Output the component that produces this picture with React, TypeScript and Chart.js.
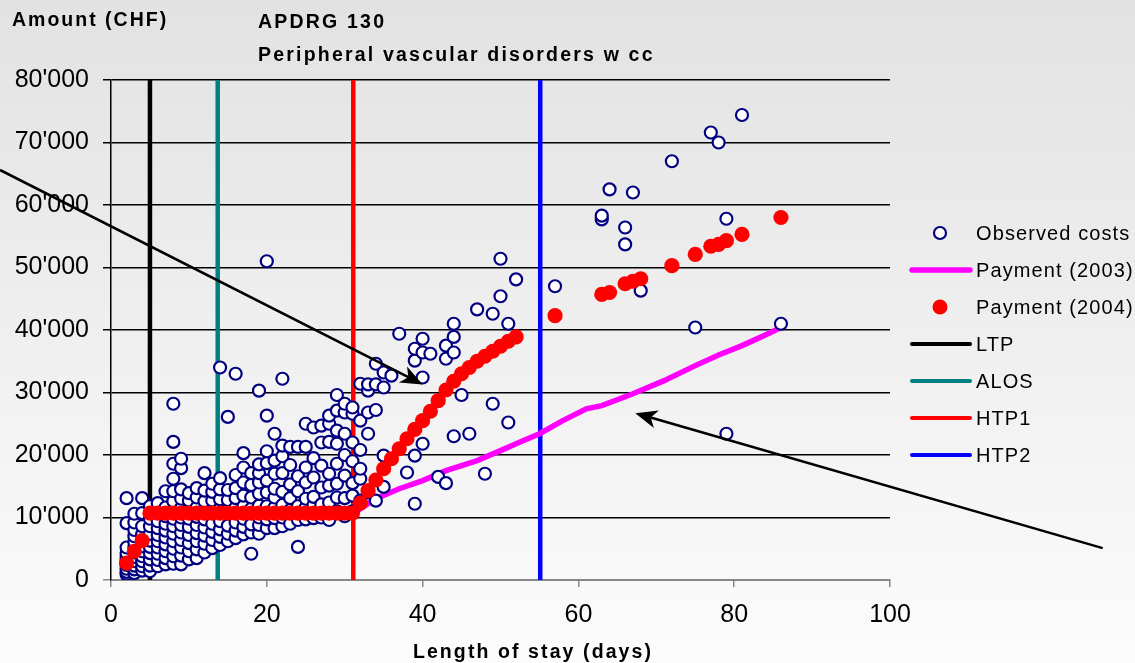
import { useEffect, useRef } from "react";
import { Chart, registerables } from "chart.js";

Chart.register(...registerables);

const W = 1135;
const H = 663;
const FONT = "'Liberation Sans', Arial, sans-serif";

// ---------- data ----------
const chartTitle = "APDRG 130";
const chartSubtitle = "Peripheral vascular disorders w cc";
const yAxisTitle = "Amount (CHF)";
const xAxisTitle = "Length of stay (days)";

const xMin = 0;
const xMax = 100;
const xStep = 20;
const yMin = 0;
const yMax = 80000;
const yStep = 10000;

// Observed costs: [length of stay, costs of the cases with that stay]
const observedCosts: [number, number[]][] = [
  [2, [900, 1300, 1800, 2400, 3000, 3600, 4300, 5200, 9100, 13100]],
  [3, [1100, 1700, 2300, 3000, 3700, 4400, 5200, 6100, 7000, 8000, 9200, 10600]],
  [4, [1500, 2200, 3000, 3800, 4600, 5400, 6300, 7300, 8600, 10700, 13100]],
  [5, [1400, 2300, 3300, 4300, 5300, 6300, 7400, 8600, 9800, 11800]],
  [6, [2200, 3200, 4200, 5200, 6200, 7200, 8300, 9400, 11200, 12300]],
  [7, [2500, 3500, 4600, 5700, 6800, 7900, 9000, 10200, 11600, 14200]],
  [8, [2600, 3800, 5000, 6200, 7400, 8600, 9800, 11200, 12600, 14200, 16200, 18600, 22100, 28200]],
  [9, [2500, 3900, 5200, 6400, 7600, 8800, 10000, 11500, 13000, 14500, 17900, 19400]],
  [10, [3300, 4600, 5900, 7200, 8500, 9800, 11400, 12700, 13900]],
  [11, [3500, 4900, 6200, 7500, 8800, 10100, 11600, 13200, 14700]],
  [12, [4400, 5800, 7100, 8400, 9700, 11300, 12600, 14300, 17100]],
  [13, [5100, 6400, 7700, 9000, 11200, 12700, 14100, 15400]],
  [14, [5600, 6900, 8100, 9400, 11500, 12900, 14500, 16300, 34000]],
  [15, [6200, 7400, 8700, 11300, 12800, 14400, 26100]],
  [16, [6700, 7900, 9200, 11600, 13100, 14700, 16800, 33000]],
  [17, [7300, 8500, 9800, 11800, 13500, 15600, 18000, 20300]],
  [18, [4200, 7600, 8900, 11400, 13200, 15200, 17100]],
  [19, [7400, 8800, 10000, 11900, 13800, 15600, 17100, 18500, 30300]],
  [20, [8300, 9700, 11800, 14000, 15900, 18700, 20600, 26300, 51000]],
  [21, [8300, 9900, 11600, 13200, 14600, 17000, 19100, 23400]],
  [22, [8600, 10000, 12000, 14100, 17100, 19800, 21500, 32200]],
  [23, [9000, 11200, 13100, 15300, 18400, 21300]],
  [24, [5300, 9600, 11800, 14200, 16600, 21300]],
  [25, [9700, 11600, 13000, 15600, 18000, 21300, 25000]],
  [26, [9900, 12000, 13300, 16400, 19500, 24400]],
  [27, [10000, 12100, 14800, 18300, 22000, 24700]],
  [28, [9600, 12400, 15100, 17000, 22100, 25000, 26300]],
  [29, [11000, 13200, 15400, 18600, 21800, 23900, 27100, 29600]],
  [30, [10200, 13100, 16700, 20000, 23400, 26800, 28200]],
  [31, [11000, 13500, 15500, 19000, 22000, 26600, 27600]],
  [32, [12700, 16200, 17800, 20800, 25500, 31400]],
  [33, [14000, 23400, 26800, 30300, 31300]],
  [34, [12700, 27200, 31300, 34600]],
  [35, [14900, 19900, 30800, 33200]],
  [36, [32700]],
  [37, [39400]],
  [38, [17200]],
  [39, [12200, 19900, 35100, 37000]],
  [40, [21800, 32400, 36400, 38600]],
  [41, [36200]],
  [42, [16500]],
  [43, [15500, 35400, 37500]],
  [44, [23000, 36400, 38900, 41000]],
  [45, [29600]],
  [46, [23400]],
  [47, [43300]],
  [48, [17000]],
  [49, [28200, 42600]],
  [50, [45400, 51400]],
  [51, [25200, 41000]],
  [52, [48100]],
  [57, [47000]],
  [63, [57700, 58300]],
  [64, [62500]],
  [66, [53700, 56400]],
  [67, [62000]],
  [68, [46300]],
  [72, [67000]],
  [75, [40400]],
  [77, [71600]],
  [78, [70000]],
  [79, [23400, 57800]],
  [81, [74400]],
  [86, [41000]],
];

const pay2003Days = [2, 5, 10, 15, 20, 25, 31, 32, 34, 37, 40, 43, 47, 50, 52, 55, 58, 61, 63, 67, 71, 75, 78, 81, 84, 86];
const pay2003Amounts = [9700, 9800, 9900, 10000, 10100, 10200, 10300, 11400, 13000, 14600, 15900, 17500, 19100, 20700, 21800, 23400, 25500, 27400, 27900, 29800, 31900, 34300, 36000, 37500, 39200, 40400];

const pay2004Days = [
  2, 3, 4, 5, 6, 7, 8, 9, 10, 11, 12, 13, 14, 15, 16, 17, 18, 19, 20, 21, 22, 23, 24, 25, 26, 27, 28, 29, 30, 31,
  32, 33, 34, 35, 36, 37, 38, 39, 40, 41, 42, 43, 44, 45, 46, 47, 48, 49, 50, 51, 52,
  57, 63, 64, 66, 67, 68, 72, 75, 77, 78, 79, 81, 86,
];
const pay2004Amounts = [
  2700, 4600, 6300, 10700, 10700, 10700, 10700, 10700, 10700, 10700, 10700, 10700, 10700, 10700, 10700, 10700,
  10700, 10700, 10700, 10700, 10700, 10700, 10700, 10700, 10700, 10700, 10700, 10700, 10700, 10700,
  12300, 14300, 16000, 17800, 19400, 21000, 22600, 24100, 25500, 27000, 28700, 30400, 31800, 33000, 34000,
  35000, 35800, 36600, 37400, 38200, 38900,
  42300, 45700, 46000, 47400, 47800, 48200, 50300, 52100, 53400, 53700, 54300, 55300, 58000,
];

const thresholdNames = ["LTP", "ALOS", "HTP1", "HTP2"];
const thresholdDays = [5, 13.7, 31.1, 55.1];
const thresholdColors = ["#000000", "#008080", "#ff0000", "#0000ff"];

// annotation arrows in data coordinates: [fromX, fromY, toX, toY]
const arrowLines: [number, number, number, number][] = [
  [-14.25, 65600, 40.0, 31300],
  [127.3, 5100, 67.3, 26700],
];

const formatAmount = (v: number) => String(v).replace(/\B(?=(\d{3})+(?!\d))/g, "'");

// ---------- plugins ----------
const backgroundPlugin = {
  id: "bgGradient",
  beforeDraw(chart: any) {
    const { ctx, width, height } = chart;
    const g = ctx.createLinearGradient(0, 0, 0, height);
    g.addColorStop(0, "#e2e2e2");
    g.addColorStop(1, "#fcfcfc");
    ctx.save();
    ctx.fillStyle = g;
    ctx.fillRect(0, 0, width, height);
    ctx.restore();
  },
};

function drawArrow(ctx: CanvasRenderingContext2D, x0: number, y0: number, x1: number, y1: number) {
  const ang = Math.atan2(y1 - y0, x1 - x0);
  const len = 22;
  const hw = 9;
  const bx = x1 - len * Math.cos(ang);
  const by = y1 - len * Math.sin(ang);
  const nx = x1 - (len - 6) * Math.cos(ang);
  const ny = y1 - (len - 6) * Math.sin(ang);
  ctx.beginPath();
  ctx.moveTo(x0, y0);
  ctx.lineTo(nx, ny);
  ctx.stroke();
  ctx.beginPath();
  ctx.moveTo(x1, y1);
  ctx.lineTo(bx + hw * Math.sin(ang), by - hw * Math.cos(ang));
  ctx.lineTo(nx, ny);
  ctx.lineTo(bx - hw * Math.sin(ang), by + hw * Math.cos(ang));
  ctx.closePath();
  ctx.fill();
}

const arrowsPlugin = {
  id: "arrows",
  afterDatasetsDraw(chart: any) {
    const { ctx, scales } = chart;
    ctx.save();
    ctx.strokeStyle = "#000";
    ctx.fillStyle = "#000";
    ctx.lineWidth = 2.6;
    for (const [fx, fy, tx, ty] of arrowLines) {
      drawArrow(
        ctx,
        scales.x.getPixelForValue(fx),
        scales.y.getPixelForValue(fy),
        scales.x.getPixelForValue(tx),
        scales.y.getPixelForValue(ty)
      );
    }
    ctx.restore();
  },
};

type LegendItem = { label: string; kind: "circle" | "dot" | "line"; color: string; width?: number };
const legendItems: LegendItem[] = [
  { label: "Observed costs", kind: "circle", color: "#000080" },
  { label: "Payment (2003)", kind: "line", color: "#ff00ff", width: 5.5 },
  { label: "Payment (2004)", kind: "dot", color: "#ff0000" },
  ...thresholdNames.map((n, i) => ({ label: n, kind: "line" as const, color: thresholdColors[i], width: 4 })),
];

const textPlugin = {
  id: "texts",
  afterDraw(chart: any) {
    const { ctx, chartArea } = chart;
    ctx.save();
    ctx.fillStyle = "#000";
    ctx.textBaseline = "alphabetic";
    ctx.textAlign = "left";
    ctx.font = `bold 19.5px ${FONT}`;
    (ctx as any).letterSpacing = "2px";
    ctx.fillText(yAxisTitle, 12, 26);
    (ctx as any).letterSpacing = "2.2px";
    ctx.fillText(chartTitle, 258, 28);
    ctx.fillText(chartSubtitle, 258, 61);
    (ctx as any).letterSpacing = "2.1px";
    ctx.textAlign = "center";
    ctx.fillText(xAxisTitle, 533, 658);

    // legend
    const symX = chartArea.right + 50;
    const lineX0 = chartArea.right + 22;
    const lineX1 = chartArea.right + 80;
    const textX = chartArea.right + 86;
    const rowY0 = chartArea.top + 153;
    const rowH = 37;
    ctx.textAlign = "left";
    ctx.textBaseline = "middle";
    ctx.font = `20px ${FONT}`;
    (ctx as any).letterSpacing = "1.1px";
    legendItems.forEach((it, i) => {
      const y = rowY0 + i * rowH;
      if (it.kind === "circle") {
        ctx.beginPath();
        ctx.arc(symX, y, 6, 0, Math.PI * 2);
        ctx.fillStyle = "#fff";
        ctx.fill();
        ctx.lineWidth = 2.2;
        ctx.strokeStyle = it.color;
        ctx.stroke();
      } else if (it.kind === "dot") {
        ctx.beginPath();
        ctx.arc(symX, y, 7.5, 0, Math.PI * 2);
        ctx.fillStyle = it.color;
        ctx.fill();
      } else {
        ctx.beginPath();
        ctx.moveTo(lineX0, y);
        ctx.lineTo(lineX1, y);
        ctx.lineWidth = it.width || 4;
        ctx.lineCap = "round";
        ctx.strokeStyle = it.color;
        ctx.stroke();
      }
      ctx.fillStyle = "#000";
      ctx.fillText(it.label, textX, y + 1);
    });
    ctx.restore();
  },
};

export default function App() {
  const canvasRef = useRef<HTMLCanvasElement | null>(null);

  useEffect(() => {
    const canvas = canvasRef.current;
    if (!canvas) return;

    const observedPoints: { x: number; y: number }[] = [];
    observedCosts.forEach(([day, costs]) => costs.forEach((c) => observedPoints.push({ x: day, y: c })));

    const datasets: any[] = [
      {
        label: "Payment (2004)",
        data: pay2004Days.map((d, i) => ({ x: d, y: pay2004Amounts[i] })),
        pointRadius: 7.6,
        pointBackgroundColor: "#ff0000",
        pointBorderWidth: 0,
        borderColor: "#ff0000",
        showLine: false,
        order: 0,
      },
      {
        label: "Observed costs",
        data: observedPoints,
        pointRadius: 6,
        pointBackgroundColor: "#ffffff",
        pointBorderColor: "#000080",
        pointBorderWidth: 2.2,
        showLine: false,
        order: 1,
      },
      {
        label: "Payment (2003)",
        data: pay2003Days.map((d, i) => ({ x: d, y: pay2003Amounts[i] })),
        showLine: true,
        borderColor: "#ff00ff",
        borderWidth: 5.5,
        pointRadius: 0,
        tension: 0,
        order: 2,
      },
      ...thresholdDays.map((d, i) => ({
        label: thresholdNames[i],
        data: [
          { x: d, y: yMin },
          { x: d, y: yMax },
        ],
        showLine: true,
        borderColor: thresholdColors[i],
        borderWidth: 4.5,
        pointRadius: 0,
        order: 3,
      })),
    ];

    const chart = new Chart(canvas, {
      type: "scatter",
      data: { datasets },
      options: {
        animation: false,
        responsive: false,
        devicePixelRatio: window.devicePixelRatio || 1,
        layout: { padding: { top: 80, left: 0, right: W - 890, bottom: 0 } },
        plugins: {
          legend: { display: false },
          tooltip: { enabled: false },
          title: { display: false },
        },
        scales: {
          x: {
            type: "linear",
            min: xMin,
            max: xMax,
            ticks: {
              stepSize: xStep,
              color: "#000",
              font: { family: FONT, size: 25 },
              padding: 13,
              maxRotation: 0,
            },
            grid: {
              drawOnChartArea: false,
              drawTicks: true,
              tickLength: 7,
              color: "#888",
              lineWidth: 1.5,
            },
            border: { color: "#888", width: 2 },
            afterFit: (scale: any) => {
              scale.height = H - 580;
            },
          },
          y: {
            type: "linear",
            min: yMin,
            max: yMax,
            ticks: {
              stepSize: yStep,
              color: "#000",
              font: { family: FONT, size: 25 },
              padding: 14,
              callback: (v: any) => formatAmount(Number(v)),
            },
            grid: {
              color: (c: any) => (c.tick && c.tick.value === 0 ? "#888" : "#000"),
              lineWidth: 1.5,
              tickLength: 8,
            },
            border: { color: "#000", width: 1.5 },
            afterFit: (scale: any) => {
              scale.width = 111;
            },
          },
        },
      },
      plugins: [backgroundPlugin, arrowsPlugin, textPlugin],
    });

    return () => chart.destroy();
  }, []);

  return (
    <div style={{ position: "fixed", left: 0, top: 0, width: W, height: H }}>
      <canvas ref={canvasRef} width={W} height={H} style={{ width: W, height: H, display: "block" }} />
    </div>
  );
}
